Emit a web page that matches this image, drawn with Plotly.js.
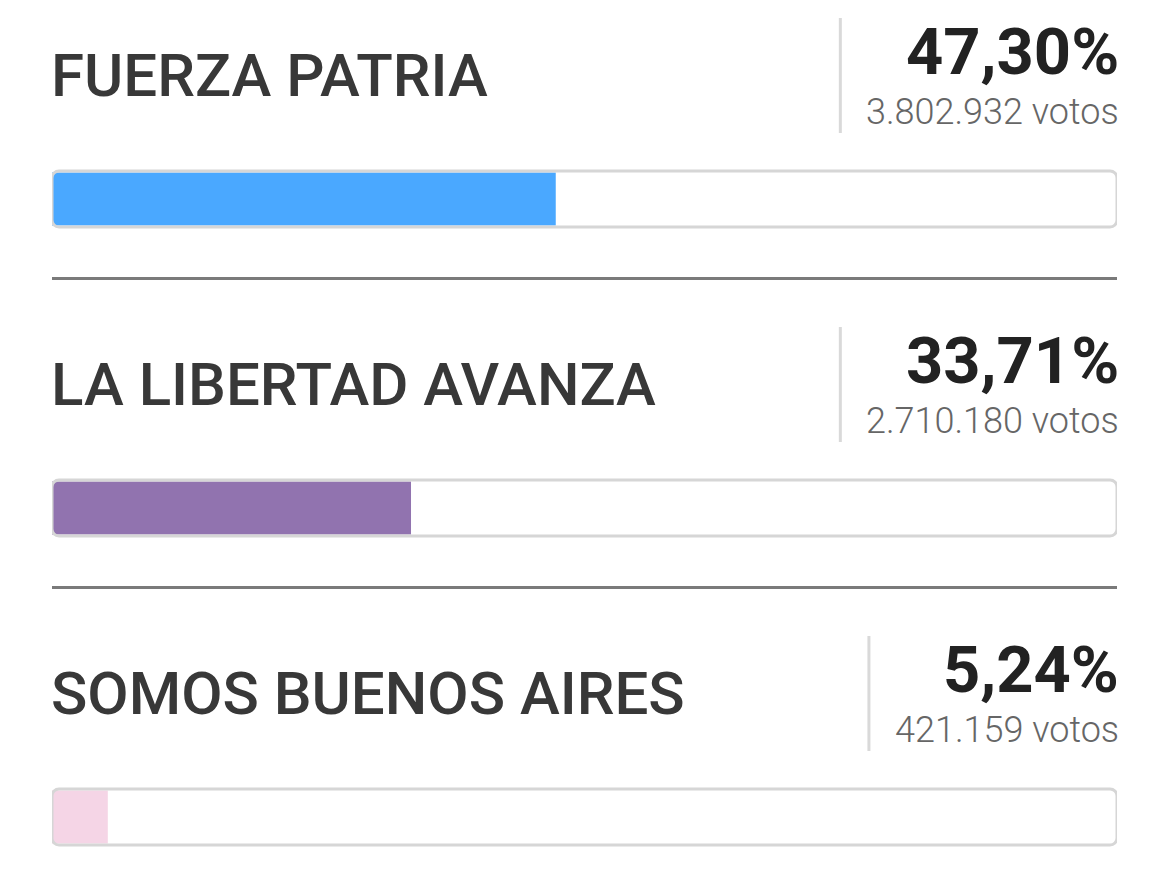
<!DOCTYPE html>
<html>
<head>
<meta charset="utf-8">
<script src="https://cdn.plot.ly/plotly-3.0.1.min.js"></script>
<style>
  html, body { margin: 0; padding: 0; background: #ffffff; }
  #chart { width: 1170px; height: 895px; }
</style>
</head>
<body>
<div id="chart"></div>
<script>
// Results per party
const partidos = ['FUERZA PATRIA', 'LA LIBERTAD AVANZA', 'SOMOS BUENOS AIRES'];
const porcentajes = [47.30, 33.71, 5.24];
const votos = [3802932, 2710180, 421159];
const colores = ['#4aa8ff', '#9173af', '#f5d5e6'];
const escalaMax = 100;

// Geometry of the card list (pixels)
const W = 1170, H = 895;
const M_L = 52, M_R = 53;
const ROW_PX = 309;          // distance between consecutive progress bars
const FIRST_BAR_PX = 199;    // centre of the first progress bar
const TRACK_PX = 56, FILL_PX = 53;

const toUnits = px => px / ROW_PX;
const yTop = -toUnits(FIRST_BAR_PX);
const yBottom = toUnits(H - FIRST_BAR_PX);
const plotW = W - M_L - M_R;

const fmtPct = v => v.toFixed(2).replace('.', ',') + '%';
const fmtVotos = v => String(v).replace(/\B(?=(\d{3})+(?!\d))/g, '.') + ' votos';

const FONT = 'Roboto, "Noto Sans", sans-serif';
const nameFont = { family: FONT, size: 60, color: '#383838', weight: 500 };
const pctFont = { family: FONT, size: 65, color: '#222222', weight: 700 };
const votFont = { family: FONT, size: 36, color: '#666666', weight: 300 };

// text widths, used to place the thin divider left of each result block
const ctx = document.createElement('canvas').getContext('2d');
function textWidth(txt, f) {
  ctx.font = f.weight + ' ' + f.size + 'px Roboto';
  return ctx.measureText(txt).width;
}

// progress fill (square ends; the rounded track outline is drawn over it)
const fill = {
  type: 'bar', orientation: 'h',
  y: partidos, x: porcentajes,
  width: toUnits(FILL_PX),
  marker: { color: colores, line: { width: 0 } },
  hoverinfo: 'skip', showlegend: false
};

// rounded track outline spanning the full scale
const track = {
  type: 'bar', orientation: 'h',
  y: partidos, x: partidos.map(() => escalaMax), base: partidos.map(() => 0),
  width: toUnits(TRACK_PX),
  marker: { color: 'rgba(0,0,0,0)', line: { color: '#d6d6d6', width: 3 }, cornerradius: 7 },
  hoverinfo: 'skip', showlegend: false
};

const RIGHT_SHIFT = 4;
const annotations = [];
const shapes = [];
partidos.forEach((p, i) => {
  annotations.push({
    xref: 'paper', yref: 'y', x: 0, y: i, xanchor: 'left', yanchor: 'middle',
    xshift: -3, yshift: 124, showarrow: false, text: p, font: nameFont
  });
  annotations.push({
    xref: 'paper', yref: 'y', x: 1, y: i, xanchor: 'right', yanchor: 'middle',
    xshift: RIGHT_SHIFT, yshift: 147, showarrow: false, text: fmtPct(porcentajes[i]), font: pctFont
  });
  annotations.push({
    xref: 'paper', yref: 'y', x: 1, y: i, xanchor: 'right', yanchor: 'middle',
    xshift: RIGHT_SHIFT, yshift: 87, showarrow: false, text: fmtVotos(votos[i]), font: votFont
  });

  const blockW = Math.max(textWidth(fmtPct(porcentajes[i]), pctFont),
                          textWidth(fmtVotos(votos[i]), votFont));
  const divPx = (M_L + plotW + RIGHT_SHIFT) - blockW - 28;
  const divX = (divPx - M_L) / plotW;
  shapes.push({
    type: 'line', xref: 'paper', yref: 'y',
    x0: divX, x1: divX, y0: i - toUnits(181), y1: i - toUnits(66),
    line: { color: '#d9d9d9', width: 3 }
  });

  if (i < partidos.length - 1) {
    const ySep = i + toUnits(79.5);
    shapes.push({
      type: 'line', xref: 'paper', yref: 'y',
      x0: 0, x1: 1, y0: ySep, y1: ySep,
      line: { color: '#7a7a7a', width: 3 }
    });
  }
});

const layout = {
  width: W, height: H,
  margin: { l: M_L, r: M_R, t: 0, b: 0, pad: 0 },
  paper_bgcolor: '#ffffff', plot_bgcolor: '#ffffff',
  barmode: 'overlay',
  showlegend: false,
  xaxis: { range: [0, escalaMax], visible: false, fixedrange: true },
  yaxis: {
    type: 'category', categoryorder: 'array', categoryarray: partidos,
    range: [yBottom, yTop], visible: false, fixedrange: true
  },
  annotations: annotations,
  shapes: shapes
};

Plotly.newPlot('chart', [fill, track], layout, { displayModeBar: false, staticPlot: true });
</script>
</body>
</html>
